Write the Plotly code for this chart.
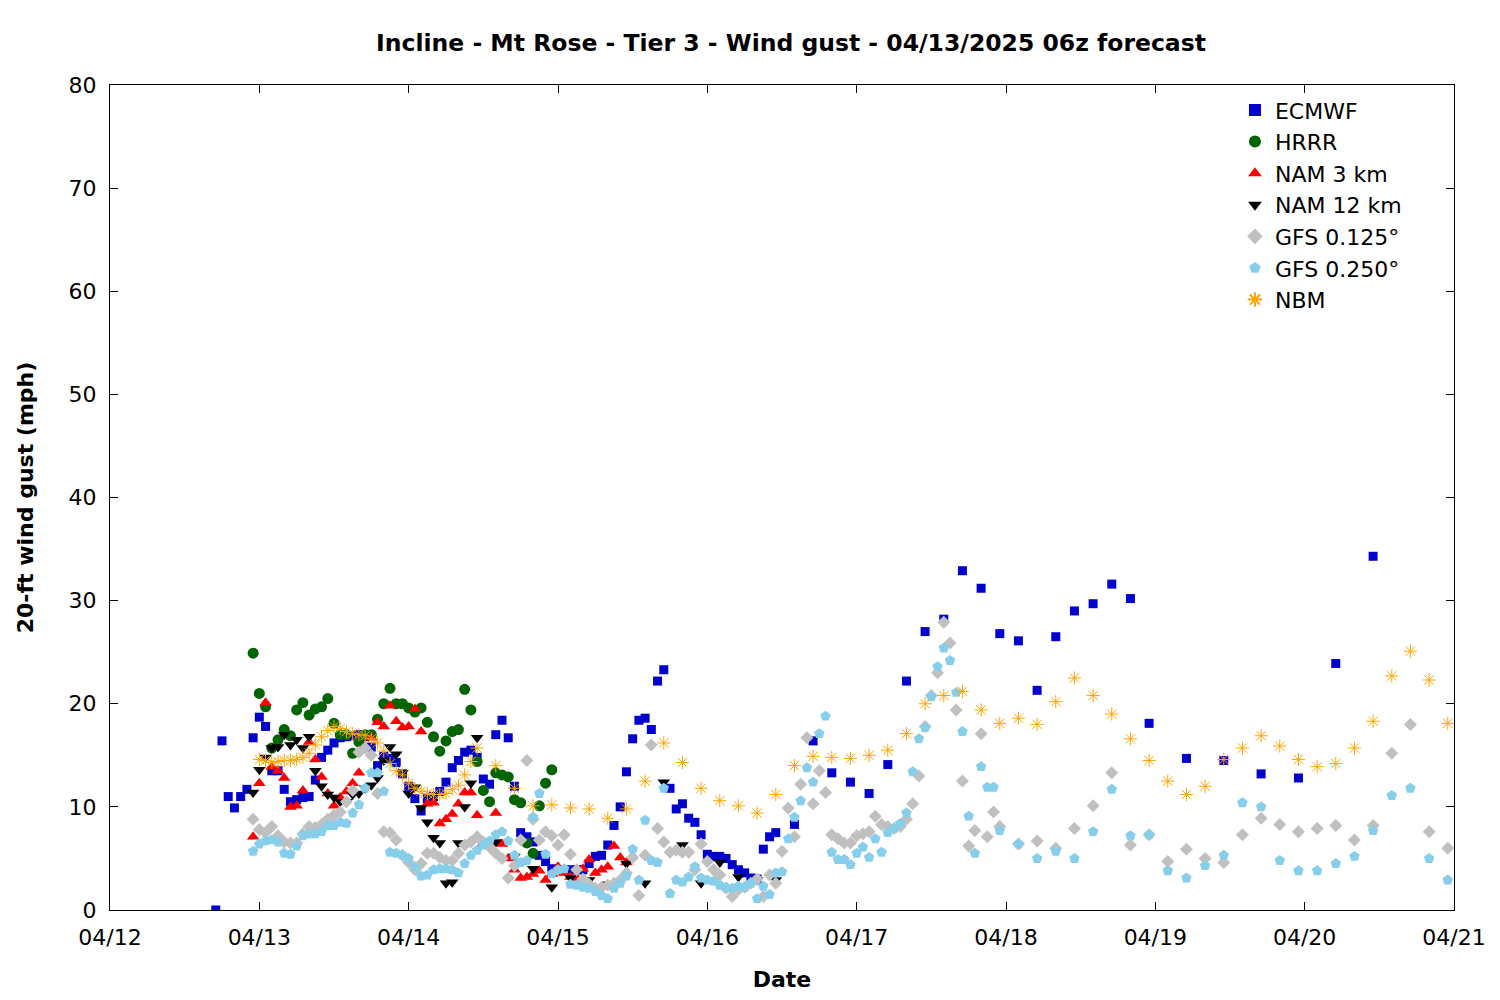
import pandas as pd
import plotly.graph_objects as go

BASE = pd.Timestamp("2025-04-12 00:00")

# hours after 04/12 00z, and gust values (mph)
ecmwf_hours = list(range(17, 108)) + list(range(110, 168, 3)) + list(range(173, 210, 6))
ecmwf_vals = [0, 16.4, 11, 9.9, 11, 11.7, 16.7, 18.7, 17.8, 13.5, 13.5, 11.7, 10.5, 10.7, 10.9, 11,
              12.6, 14.8, 15.5, 16.2, 16.7, 16.8, 16.9, 17, 16.8, 15.8, 14, 14.9, 14.7, 14.3, 13.2, 12,
              10.8, 9.6, 10.8, 11, 11.5, 12.4, 13.8, 14.5, 15.3, 15.5, 14.8, 12.7, 12.2, 17, 18.4, 16.7,
              12, 7.5, 7.1, 6.6, 5.3, 4.7, 4, 3.9, 3.9, 3.9, 3.9, 3.9, 4.5, 5.2, 5.3, 6.3, 8.2, 10, 13.4,
              16.6, 18.4, 18.6, 17.5, 22.2, 23.3, 11.8, 9.8, 10.3, 8.9, 8.5, 7.3, 5.4, 5.2, 5.2, 5, 4.4,
              3.9, 3.6, 3.1, 3, 5.9, 7.1, 7.5,
              8.3, 16.4, 13.3, 12.4, 11.3, 14.1, 22.2, 27, 28.2, 32.9, 31.2, 26.8, 26.1, 21.3, 26.5, 29,
              29.7, 31.6, 30.2,
              18.1, 14.7, 14.5, 13.2, 12.8, 23.9, 34.3]

hrrr_hours = list(range(23, 72))
hrrr_vals = [24.9, 21, 19.7, 15.7, 16.5, 17.5, 16.9, 19.4, 20.1, 18.9, 19.5, 19.7, 20.5, 18.1, 17, 17,
             15.2, 16.3, 17, 17, 18.5, 20, 21.5, 20, 20, 19.6, 19.2, 19.6, 18.2, 16.8, 15.4, 16.4, 17.3,
             17.5, 21.4, 19.4, 14.4, 11.6, 10.5, 13.3, 13.1, 12.9, 10.7, 10.4, 6.5, 5.5, 10.1, 12.3, 13.6]

nam3_hours = list(range(23, 84))
nam3_vals = [7.1, 12.3, 20.1, 13.9, 13.5, 12.8, 10, 10.1, 11.6, 16.3, 14.6, 12.9, 11.3, 10.1, 10.9, 11.5,
             12.3, 13.3, 15.8, 16.7, 18.2, 17.8, 19.8, 18.3, 17.7, 17.8, 19.5, 17.3, 10.3, 10.4, 8.4, 8.8,
             9.3, 10.3, 11.4, 11.4, 9.2, 6.5, 6.3, 9.4, 6.4, 5, 3.9, 3.1, 3.2, 3.5, 3.8, 2.9, 3.5, 4.2,
             3.6, 3.2, 3.1, 4, 4.9, 3.6, 3.9, 4.2, 6.2, 5.1, 4.6]

nam12_hours = list(range(23, 60)) + list(range(62, 108, 3))
nam12_vals = [11.4, 13.6, 14.8, 15.7, 15.8, 17, 16, 16.5, 15.7, 16.8, 13.5, 12, 11.2, 10.9, 10.5, 10.5,
              11.2, 11.3, 11.8, 12.1, 12.8, 14.5, 15.8, 15.1, 13.3, 11.3, 11.9, 9.9, 8.5, 7, 6.5, 2.6,
              2.7, 6.5, 10, 12.3, 16.7,
              6.6, 5.2, 4, 2.2, 3.1, 2.9, 2.5, 4.5, 2.6, 12.4, 6.3, 2.6, 4.6, 3.2, 2.9, 2.9]

gfs125_hours = list(range(23, 144)) + list(range(146, 216, 3))
gfs125_vals = [8.8, 7.8, 7.5, 8.1, 7.2, 6.6, 6.5, 6.5, 7.4, 8.1, 8, 8.3, 8.8, 9.2, 9.5, 10.5, 11.6, 15.3,
               15.7, 15, 11.3, 7.6, 7.5, 6.8, 5.3, 4.6, 3.9, 4.5, 5.5, 5.5, 5.1, 4.8, 4.8, 5.5, 6.3, 6.6,
               7.1, 6.6, 6.1, 5.5, 5, 3.1, 4.3, 6.8, 14.5, 8.8, 6.8, 7.6, 7.2, 6.3, 7.3, 5.4, 3.9, 3, 2.5,
               2.1, 2.2, 2.4, 2.6, 2.9, 3.6, 5.1, 1.4, 5.3, 16, 7.9, 6.6, 5.6, 5.8, 5.6, 5.6, 3.9, 6.4,
               4.7, 3.9, 3.4, 2.1, 1.3, 2, 2.2, 2.6, 3, 1.3, 3.4, 2.6, 5.7, 9.9, 7.1, 12.2, 16.7, 10.3,
               13.5, 11.4, 7.3, 6.9, 6.5, 6.5, 7.2, 7.4, 7.6, 9.1, 8.3, 8.1, 7.9, 8.1, 8.8, 10.3, 13,
               17.8, 20.8, 23, 27.9, 25.9, 19.4, 12.5, 6.2, 7.7, 17.1, 7.1, 9.5, 8.1,
               6.4, 6.7, 6, 7.9, 10.1, 13.3, 6.3, 7.3, 4.7, 5.9, 5, 4.6, 7.3, 8.9, 8.3, 7.6, 7.9, 8.2,
               6.8, 8.2, 15.2, 18, 7.6, 6]

gfs250_hours = list(range(23, 144)) + list(range(146, 216, 3))
gfs250_vals = [5.7, 6.4, 6.7, 6.8, 6.6, 5.5, 5.4, 6.2, 7.2, 7.4, 7.4, 7.6, 8.2, 8.2, 8.5, 8.4, 9.4, 10.2,
               11.8, 13.3, 13.3, 11.5, 5.6, 5.5, 5.3, 5, 4.2, 3.3, 3.4, 3.9, 4, 4, 3.9, 3.6, 4.5, 5.3,
               5.8, 6.3, 6.7, 7.3, 7.6, 6.7, 5.3, 4.6, 4.8, 9, 11.3, 5.4, 3.5, 3.9, 4, 2.5, 2.4, 2.2, 2.1,
               1.8, 1.4, 1.1, 2.1, 2.6, 3.3, 5.9, 2.9, 8.7, 4.8, 4.6, 11.8, 1.6, 2.9, 2.7, 3.2, 4.2, 3.1,
               2.9, 2.8, 2.4, 2.2, 2.1, 2.3, 2.2, 2.6, 1.1, 2.3, 1.5, 3.6, 3.7, 6.9, 9, 10.6, 13.8, 12.4,
               17.1, 18.8, 5.6, 4.9, 4.9, 4.4, 5.5, 6.1, 5.1, 6.9, 5.6, 7.5, 7.9, 8.4, 9.4, 13.4, 16.6,
               17.7, 20.7, 23.6, 25.4, 24.2, 21.1, 17.3, 9.1, 5.5, 13.9, 11.9, 11.9, 7.7,
               6.4, 5, 5.7, 5, 7.6, 11.7, 7.2, 7.3, 3.8, 3.1, 4.3, 5.3, 10.4, 10, 4.8, 3.8, 3.8, 4.5,
               5.2, 7.7, 11.1, 11.8, 5, 2.9]

nbm_hours = list(range(24, 60)) + list(range(62, 216, 3))
nbm_vals = [14.6, 14.5, 14.3, 14.4, 14.5, 14.5, 14.6, 14.8, 15.2, 16, 16.8, 17.4, 17.8, 17.6, 17.3, 17.1,
            17, 16.9, 16.6, 16.2, 15.4, 14.2, 13.5, 13.1, 12.3, 11.8, 11.5, 11.3, 11.2, 11.2, 11.3, 11.7,
            12.1, 13.1, 14.4, 15.7,
            14, 11.8, 10.1, 10.2, 9.9, 9.8, 8.9, 9.8, 12.5, 16.2, 14.3, 11.8, 10.6, 10.1, 9.4, 11.2, 14,
            14.9, 14.8, 14.7, 15, 15.5, 17.1, 20, 20.8, 21.2, 19.4, 18.1, 18.6, 18, 20.2, 22.5, 20.8, 19,
            16.6, 14.5, 12.5, 11.2, 12, 14.6, 15.7, 16.9, 15.9, 14.6, 13.9, 14.2, 15.7, 18.3, 22.7, 25.1,
            22.3, 18.1]

tick_days = pd.date_range("2025-04-12", "2025-04-21", freq="D")


def times(hours):
    return [BASE + pd.Timedelta(hours=h) for h in hours]


series = [
    ("ECMWF", ecmwf_hours, ecmwf_vals, "square", "#0000cc", 9),
    ("HRRR", hrrr_hours, hrrr_vals, "circle", "#006400", 11),
    ("NAM 3 km", nam3_hours, nam3_vals, "triangle-up", "#ff0000", 11),
    ("NAM 12 km", nam12_hours, nam12_vals, "triangle-down", "#000000", 11),
    ("GFS 0.125°", gfs125_hours, gfs125_vals, "diamond", "#c0c0c0", 10),
    ("GFS 0.250°", gfs250_hours, gfs250_vals, "pentagon", "#87ceeb", 11),
    ("NBM", nbm_hours, nbm_vals, "asterisk-open", "#ffa500", 11),
]

fig = go.Figure()
for name, hrs, vals, sym, col, size in series:
    marker = dict(symbol=sym, color=col, size=size)
    if sym == "asterisk-open":
        marker["line"] = dict(color=col, width=1)
    fig.add_trace(go.Scatter(x=times(hrs), y=vals, mode="markers", name=name, marker=marker))

axis_common = dict(showline=True, linecolor="black", linewidth=1, mirror="ticks", ticks="inside",
                   ticklen=8, tickcolor="black", showgrid=False, zeroline=False,
                   ticklabelstandoff=8, tickfont=dict(size=22, color="black"))

fig.update_layout(
    width=1500, height=1000,
    plot_bgcolor="white", paper_bgcolor="white",
    font=dict(family="DejaVu Sans", color="black"),
    title=dict(text="<b>Incline - Mt Rose - Tier 3 - Wind gust - 04/13/2025 06z forecast</b>",
               x=0.522, xanchor="center", y=0.973, font=dict(size=23.5)),
    margin=dict(l=102, r=54, t=77, b=98),
    xaxis=dict(range=[tick_days[0], tick_days[-1]], tickvals=tick_days,
               ticktext=[d.strftime("%m/%d") for d in tick_days],
               title=dict(text="<b>Date</b>", font=dict(size=22), standoff=22), **axis_common),
    yaxis=dict(range=[0, 80], dtick=10,
               title=dict(text="<b>20-ft wind gust (mph)</b>", font=dict(size=22), standoff=28),
               **axis_common),
    legend=dict(x=0.965, xanchor="right", y=0.995, yanchor="top", font=dict(size=22),
                bgcolor="rgba(0,0,0,0)", tracegroupgap=0, itemsizing="constant"),
)

fig.write_html("out.html")
